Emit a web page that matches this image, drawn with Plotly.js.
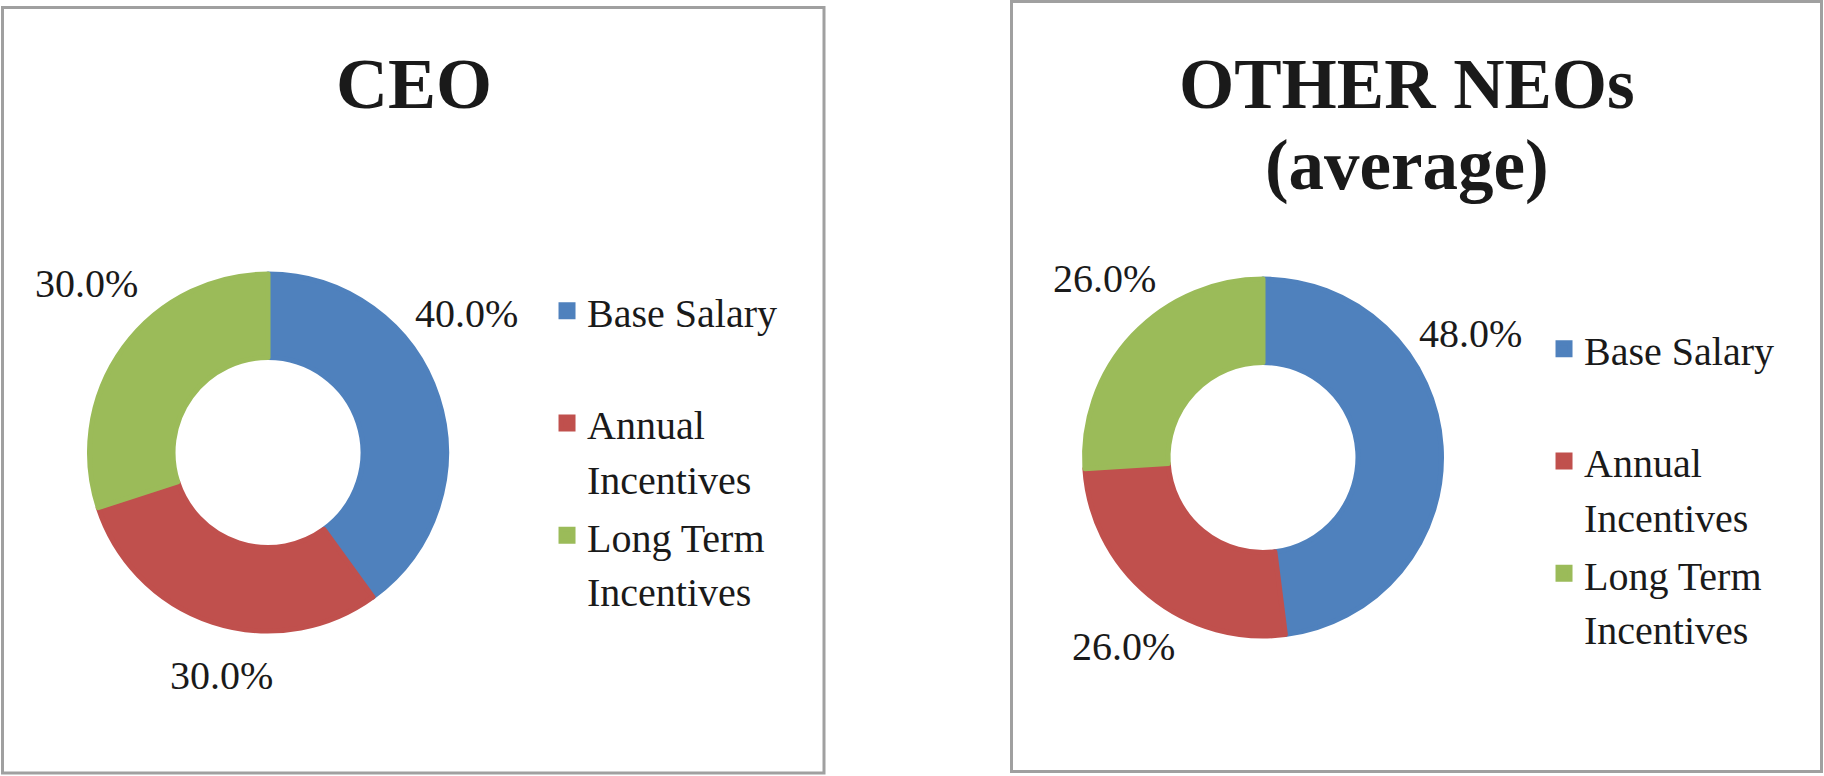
<!DOCTYPE html>
<html>
<head>
<meta charset="utf-8">
<script src="https://cdn.plot.ly/plotly-3.0.1.min.js"></script>
<style>
  html, body { margin: 0; padding: 0; background: #ffffff; }
  #chart { width: 1824px; height: 776px; }
</style>
</head>
<body>
<div id="chart"></div>
<script>
// ---- data ----
const categories = ['Base Salary', 'Annual Incentives', 'Long Term Incentives'];
const legendLabels = ['Base Salary', 'Annual<br>Incentives', 'Long Term<br>Incentives'];
const ceoValues = [40, 30, 30];
const neoValues = [48, 26, 26];
const sliceColors = ['#4f81bd', '#c0504d', '#9bbb59'];
const ceoTitle = 'CEO';
const neoTitleLines = ['OTHER NEOs', '(average)'];

// ---- layout settings (positions in pixels of the 1824x776 page) ----
const W = 1824, H = 776;
const SERIF = 'Liberation Serif';
const TXT = '#1a1a1a';
const LEG_TEXT_PX = 40;
// data-label anchor points (Excel "best fit" placement), per slice
const ceoLabelPos = [[466.5, 313.5], [221, 675.5], [86.5, 283.5]];
const neoLabelPos = [[1470.5, 333.5], [1123.5, 646.5], [1104.5, 278.5]];

function legendText(label) {
  const lines = label.split('<br>');
  if (lines.length < 2) lines.push(' ');
  return lines.map(l => '<span style="font-size:' + LEG_TEXT_PX + 'px">' + l + '</span>').join('<br>');
}
const pieLabels = legendLabels.map(legendText);
const labelFont = { family: SERIF, size: 40, color: TXT };

function donut(values, domain, legendId, group) {
  return {
    type: 'pie',
    labels: pieLabels,
    values: values,
    customdata: categories,
    sort: false,
    direction: 'clockwise',
    rotation: 0,
    hole: 0.532,
    domain: domain,
    marker: { colors: sliceColors, line: { color: sliceColors, width: 5 } },
    textposition: 'none',
    textinfo: 'none',
    hoverinfo: 'skip',
    legend: legendId,
    legendgroup: group,
    showlegend: true
  };
}

function pctLabels(values, positions) {
  const total = values.reduce((a, b) => a + b, 0);
  return values.map((v, i) => ({
    text: (v / total * 100).toFixed(1) + '%',
    xref: 'paper', yref: 'paper',
    x: positions[i][0] / W, y: 1 - positions[i][1] / H,
    xanchor: 'center', yanchor: 'middle', showarrow: false,
    font: labelFont
  }));
}

const traces = [
  donut(ceoValues, { x: [0.04907, 0.24479], y: [0.18686, 0.64691] }, 'legend', 'ceo'),
  donut(neoValues, { x: [0.59457, 0.79030], y: [0.18041, 0.64046] }, 'legend2', 'neo')
];

const legendCommon = {
  xanchor: 'left', yanchor: 'top',
  orientation: 'v',
  valign: 'top',
  bgcolor: 'rgba(0,0,0,0)',
  borderwidth: 0,
  font: { family: SERIF, size: 42, color: TXT },
  traceorder: 'normal',
  tracegroupgap: 0
};

const layout = {
  width: W, height: H, autosize: false,
  margin: { l: 0, r: 0, t: 0, b: 0, pad: 0 },
  paper_bgcolor: '#ffffff',
  plot_bgcolor: '#ffffff',
  font: { family: SERIF, color: TXT },
  showlegend: true,
  legend: Object.assign({}, legendCommon, { x: 0.2999, y: 0.6430 }),
  legend2: Object.assign({}, legendCommon, { x: 0.8465, y: 0.5941 }),
  shapes: [
    { type: 'rect', xref: 'paper', yref: 'paper', x0: 2.5 / W, x1: 824 / W, y0: 1 - 773 / H, y1: 1 - 7.5 / H,
      line: { color: '#a0a0a0', width: 3 }, fillcolor: 'rgba(0,0,0,0)' },
    { type: 'rect', xref: 'paper', yref: 'paper', x0: 1011.5 / W, x1: 1821.5 / W, y0: 1 - 771.5 / H, y1: 1 - 1.5 / H,
      line: { color: '#a0a0a0', width: 3 }, fillcolor: 'rgba(0,0,0,0)' }
  ],
  annotations: [
    { text: '<b>' + ceoTitle + '</b>', xref: 'paper', yref: 'paper', x: 414 / W, y: 1 - 84 / H,
      xanchor: 'center', yanchor: 'middle', showarrow: false,
      font: { family: SERIF, size: 72, color: TXT } },
    { text: neoTitleLines.map(l => '<span style="font-size:71px"><b>' + l + '</b></span>').join('<br>'),
      xref: 'paper', yref: 'paper', x: 1407 / W, y: 1 - 125.5 / H,
      xanchor: 'center', yanchor: 'middle', align: 'center', showarrow: false,
      font: { family: SERIF, size: 62, color: TXT } }
  ].concat(pctLabels(ceoValues, ceoLabelPos), pctLabels(neoValues, neoLabelPos))
};

Plotly.newPlot('chart', traces, layout, { staticPlot: true, displayModeBar: false });
</script>
</body>
</html>
